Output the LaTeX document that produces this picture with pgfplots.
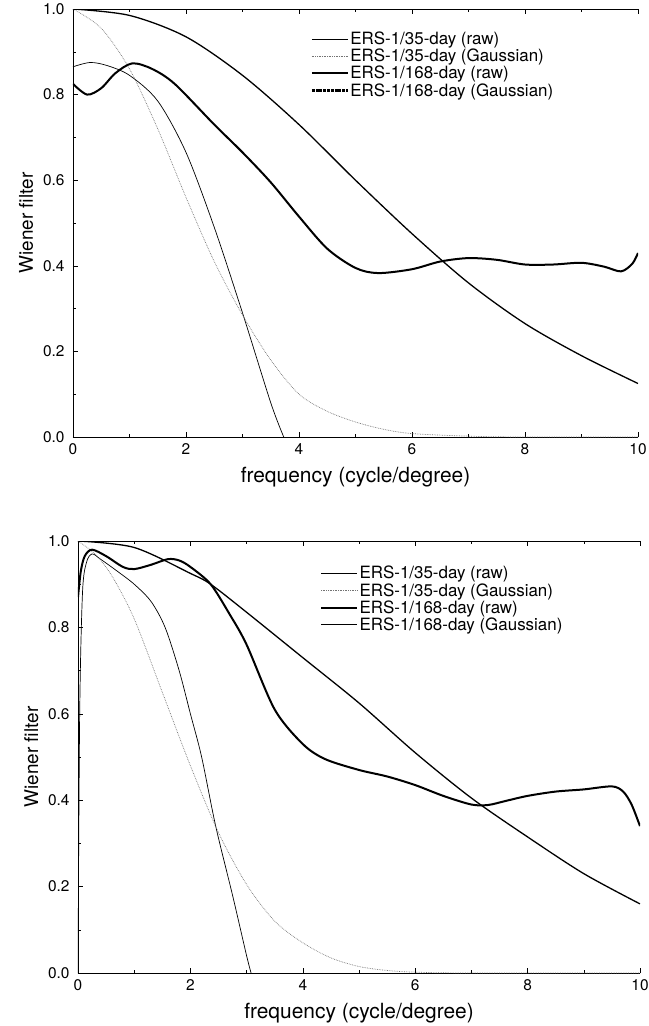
\documentclass[border=0pt]{standalone}
\usepackage{pgfplots}
\pgfplotsset{compat=1.18}
\usepackage{fontspec}
\setmainfont{TeX Gyre Heros}

\begin{document}
\begin{tikzpicture}
\pgfplotsset{
  wiener/.style={
    scale only axis, width=565bp, height=428bp,
    xmin=0, xmax=10, ymin=0, ymax=1,
    separate axis lines, axis x line*=box, axis y line*=left,
    axis line style={line width=0.7bp},
    xtick={0,2,...,10}, ytick={0,0.2,...,1.0},
    minor x tick num=1, minor y tick num=1,
    tick align=inside, major tick length=5bp, minor tick length=3bp,
    tick style={line width=0.6bp, black},
    /pgf/number format/assume math mode=true,
    yticklabel style={xshift=-5bp, /pgf/number format/fixed, /pgf/number format/fixed zerofill, /pgf/number format/precision=1},
    tick label style={font=\fontsize{15.5}{18}\selectfont},
    xticklabel style={yshift=-3bp},
    xlabel={frequency (cycle/degree)},
    xlabel style={at={(axis description cs:0.5,0)}, anchor=base, yshift=-45bp, font=\fontsize{21}{24}\selectfont},
    ylabel={Wiener filter},
    ylabel style={at={(axis description cs:-0.083,0.5)}, anchor=center, font=\fontsize{19}{22}\selectfont},
    legend cell align=left,
    legend style={draw=none, fill=none, font=\fontsize{17}{20}\selectfont,
      row sep=0bp, nodes={inner sep=1.5bp}},
    legend image code/.code={\draw[#1] (0bp,0bp) -- (36bp,0bp);},
  },
}
% page frame of the reference
\useasboundingbox (-73bp,9bp) rectangle (576bp,-1017bp);

% upper panel
\begin{axis}[wiener, at={(0bp,0bp)}, anchor=north west,
  legend style={at={(axis description cs:0.415,0.955)}, anchor=north west}]
% ERS-1/35-day (raw)
\addplot[black, line width=0.7bp, smooth] coordinates {
(0,0.865)(0.3,0.875)(0.6,0.868)(1,0.845)(1.5,0.785)(2,0.665)(2.5,0.49)(3,0.29)(3.5,0.08)(3.73,0)};
% ERS-1/35-day (Gaussian)
\addplot[black!55, densely dotted, line width=0.7bp, smooth] coordinates {
(0,1.0)(0.5,0.955)(1,0.86)(1.5,0.72)(2,0.56)(2.5,0.41)(3,0.285)(3.5,0.18)(4,0.1)(4.5,0.06)(5,0.035)(5.5,0.018)(6,0.008)(7,0.002)(8,0)(10,0)};
% ERS-1/168-day (raw)
\addplot[black, line width=2bp, smooth] coordinates {
(0,0.825)(0.25,0.80)(0.5,0.815)(0.75,0.85)(1.05,0.873)(1.4,0.86)(1.8,0.825)(2.5,0.73)(3,0.665)(3.5,0.595)(4,0.515)(4.5,0.44)(5,0.395)(5.4,0.383)(6,0.392)(6.5,0.41)(7,0.418)(7.5,0.414)(8,0.403)(8.5,0.403)(9,0.407)(9.4,0.398)(9.7,0.387)(9.9,0.405)(10,0.43)};
% ERS-1/168-day (Gaussian)
\addplot[black, line width=1.3bp, smooth, forget plot] coordinates {
(0,1.0)(1,0.985)(2,0.935)(3,0.845)(4,0.73)(5,0.6)(6,0.475)(7,0.36)(8,0.265)(9,0.19)(10,0.125)};
\addlegendimage{black, line width=2.2bp, dash pattern=on 3bp off 0.8bp}
\legend{ERS-1/35-day (raw), ERS-1/35-day (Gaussian), ERS-1/168-day (raw), ERS-1/168-day (Gaussian)}
\end{axis}

% lower panel
\begin{axis}[wiener, at={(5bp,-532bp)}, anchor=north west, height=432bp, width=562bp,
  legend style={at={(axis description cs:0.425,0.95)}, anchor=north west}]
% ERS-1/35-day (raw)
\addplot[black, line width=0.7bp, smooth] coordinates {
(0,0)(0.03,0.6)(0.08,0.88)(0.15,0.95)(0.25,0.97)(0.4,0.958)(0.7,0.93)(1.0,0.9)(1.3,0.86)(1.55,0.8)(1.8,0.7)(2.0,0.6)(2.2,0.5)(2.45,0.34)(2.75,0.18)(3.0,0.04)(3.08,0)};
% ERS-1/35-day (Gaussian)
\addplot[black!55, densely dotted, line width=0.7bp, smooth] coordinates {
(0,1.0)(0.3,0.97)(0.6,0.92)(1.0,0.82)(1.5,0.65)(2,0.48)(2.5,0.325)(3,0.205)(3.5,0.12)(4,0.07)(4.5,0.035)(5,0.015)(5.5,0.006)(6,0.002)(7,0)(10,0)};
% ERS-1/168-day (raw)
\addplot[black, line width=2bp, smooth] coordinates {
(0,0.87)(0.05,0.93)(0.12,0.965)(0.25,0.98)(0.5,0.965)(0.8,0.94)(1.0,0.935)(1.3,0.945)(1.6,0.958)(1.8,0.955)(2.0,0.94)(2.36,0.9)(2.7,0.83)(3.0,0.76)(3.5,0.61)(4.0,0.53)(4.4,0.495)(5,0.47)(5.5,0.455)(6,0.435)(6.5,0.41)(7,0.39)(7.3,0.389)(7.6,0.398)(8,0.41)(8.5,0.42)(9,0.425)(9.5,0.432)(9.7,0.42)(9.85,0.39)(10,0.34)};
% ERS-1/168-day (Gaussian)
\addplot[black, line width=1.3bp, smooth] coordinates {
(0,1.0)(1,0.985)(2,0.925)(2.36,0.9)(3,0.835)(4,0.73)(5,0.625)(6,0.51)(7,0.405)(8,0.315)(9,0.23)(10,0.16)};
\legend{ERS-1/35-day (raw), ERS-1/35-day (Gaussian), ERS-1/168-day (raw), ERS-1/168-day (Gaussian)}
\end{axis}
\end{tikzpicture}
\end{document}
